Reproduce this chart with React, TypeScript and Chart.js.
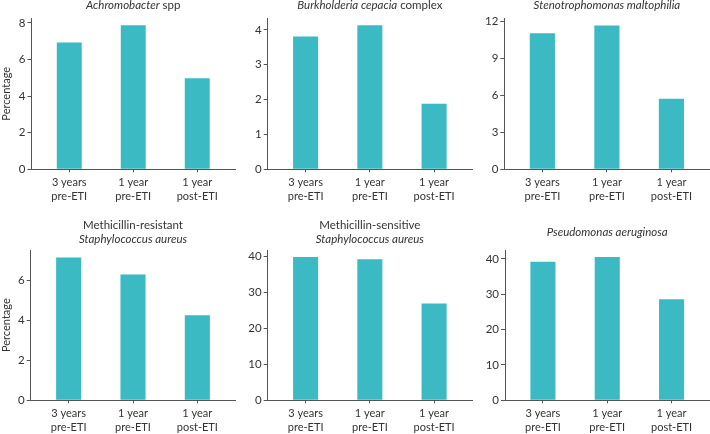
import React, { useEffect, useRef } from "react";
import { Chart, registerables } from "chart.js";

Chart.register(...registerables);

// ---------- data ----------
const categories: string[][] = [
  ["3 years", "pre-ETI"],
  ["1 year", "pre-ETI"],
  ["1 year", "post-ETI"],
];

const achromobacterValues = [6.93, 7.87, 4.97];
const burkholderiaValues = [3.81, 4.13, 1.88];
const stenotrophomonasValues = [11.06, 11.7, 5.74];
const mrsaValues = [7.13, 6.28, 4.24];
const mssaValues = [39.8, 39.2, 26.9];
const pseudomonasValues = [39.2, 40.5, 28.6];

const yMaxima = [8.25, 4.33, 12.28, 7.5, 41.75, 42.5];
const yTickSteps = [2, 1, 3, 2, 10, 10];

type Seg = [string, boolean]; // text, italic
const panelTitles: Seg[][][] = [
  [[["Achromobacter", true], [" spp", false]]],
  [[["Burkholderia cepacia", true], [" complex", false]]],
  [[["Stenotrophomonas maltophilia", true]]],
  [[["Methicillin-resistant", false]], [["Staphylococcus aureus", true]]],
  [[["Methicillin-sensitive", false]], [["Staphylococcus aureus", true]]],
  [[["Pseudomonas aeruginosa", true]]],
];

const yAxisTitle = "Percentage";

// ---------- style ----------
const BAR = "#3bbac4";
const AXIS = "#555555";
const TEXT = "#333333";
const FONT = "Lato, 'Noto Sans', sans-serif";

type Layout = {
  canvas: { left: number; top: number; width: number; height: number };
  area: { left: number; right: number; top: number; bottom: number };
  showYTitle: boolean;
  titleBaseline: number;
};

const layouts: Layout[] = [
  { canvas: { left: 0, top: 4, width: 240, height: 210 }, area: { left: 31.5, right: 235, top: 18.3, bottom: 169.3 }, showYTitle: true, titleBaseline: 9.5 },
  { canvas: { left: 240, top: 4, width: 236, height: 210 }, area: { left: 267.7, right: 472, top: 18.3, bottom: 169.3 }, showYTitle: false, titleBaseline: 9.5 },
  { canvas: { left: 476, top: 4, width: 234, height: 210 }, area: { left: 504.3, right: 709.5, top: 18.3, bottom: 169.3 }, showYTitle: false, titleBaseline: 9.5 },
  { canvas: { left: 0, top: 236, width: 240, height: 198 }, area: { left: 30.7, right: 235.3, top: 250, bottom: 400.3 }, showYTitle: true, titleBaseline: 236 },
  { canvas: { left: 240, top: 236, width: 236, height: 198 }, area: { left: 267.7, right: 472, top: 250, bottom: 400.3 }, showYTitle: false, titleBaseline: 236 },
  { canvas: { left: 476, top: 236, width: 234, height: 198 }, area: { left: 505, right: 709.5, top: 250, bottom: 400.3 }, showYTitle: false, titleBaseline: 236 },
];

const panelValues = [
  achromobacterValues,
  burkholderiaValues,
  stenotrophomonasValues,
  mrsaValues,
  mssaValues,
  pseudomonasValues,
];

function Panel({ index }: { index: number }) {
  const ref = useRef<HTMLCanvasElement | null>(null);
  const lay = layouts[index];
  const values = panelValues[index];

  useEffect(() => {
    if (!ref.current) return;
    const c = lay.canvas;
    const a = lay.area;
    const yW = a.left - c.left;
    const padTop = a.top - c.top;
    const padRight = c.left + c.width - a.right;
    const xH = c.top + c.height - a.bottom;

    const chart = new Chart(ref.current, {
      type: "bar",
      data: {
        datasets: [
          {
            data: values.map((v, i) => ({ x: i, y: v })),
            backgroundColor: BAR,
            borderWidth: 0,
            barPercentage: 0.39,
            categoryPercentage: 1,
          } as any,
        ],
      },
      options: {
        responsive: false,
        animation: false,
        devicePixelRatio: 1,
        layout: { padding: { left: 0, right: padRight, top: padTop, bottom: 0 } },
        plugins: {
          legend: { display: false },
          tooltip: { enabled: false },
          title: { display: false },
        },
        scales: {
          x: {
            type: "linear",
            offset: false,
            min: -0.59,
            max: 2.59,
            afterBuildTicks: (s: any) => {
              s.ticks = categories.map((_, i) => ({ value: i }));
            },
            afterFit: (s: any) => {
              s.height = xH;
            },
            ticks: {
              callback: (v: any) => categories[v as number],
              font: { family: FONT, size: 11, lineHeight: 1.27 },
              color: TEXT,
              padding: 3,
              maxRotation: 0,
              autoSkip: false,
            },
            grid: { display: true, offset: false, drawOnChartArea: false, drawTicks: true, tickLength: 3, color: AXIS },
            border: { display: true, color: AXIS, width: 1 },
          },
          y: {
            min: 0,
            max: yMaxima[index],
            afterFit: (s: any) => {
              s.width = yW;
            },
            ticks: {
              stepSize: yTickSteps[index],
              includeBounds: false,
              font: { family: FONT, size: 11.5 },
              color: TEXT,
              padding: 2,
            },
            grid: { display: true, drawOnChartArea: false, drawTicks: true, tickLength: 4, color: AXIS },
            border: { display: true, color: AXIS, width: 1 },
            title: {
              display: lay.showYTitle,
              text: yAxisTitle,
              font: { family: FONT, size: 11 },
              color: TEXT,
              padding: { top: 0, bottom: 0 },
            },
          },
        },
      } as any,
    });
    return () => chart.destroy();
  }, [index]);

  const lines = panelTitles[index];
  const centerX = (lay.area.left + lay.area.right) / 2;
  const lineH = 13.5;
  const top = lay.titleBaseline - 11.2 - ((lines.length - 1) * lineH) / 2;

  return (
    <>
      <canvas
        ref={ref}
        width={lay.canvas.width}
        height={lay.canvas.height}
        style={{
          position: "absolute",
          left: lay.canvas.left,
          top: lay.canvas.top,
          width: lay.canvas.width,
          height: lay.canvas.height,
        }}
      />
      <div
        style={{
          position: "absolute",
          left: centerX - 150,
          top,
          width: 300,
          textAlign: "center",
          fontFamily: FONT,
          fontSize: 11.5,
          lineHeight: `${lineH}px`,
          color: TEXT,
          whiteSpace: "nowrap",
        }}
      >
        {lines.map((line, li) => (
          <div key={li}>
            {line.map(([t, it], si) => (
              <span key={si} style={{ fontStyle: it ? "italic" : "normal" }}>
                {t}
              </span>
            ))}
          </div>
        ))}
      </div>
    </>
  );
}

export default function App() {
  return (
    <div
      style={{
        position: "fixed",
        left: 0,
        top: 0,
        width: 710,
        height: 434,
        background: "#ffffff",
        overflow: "hidden",
      }}
    >
      {layouts.map((_, i) => (
        <Panel key={i} index={i} />
      ))}
    </div>
  );
}
